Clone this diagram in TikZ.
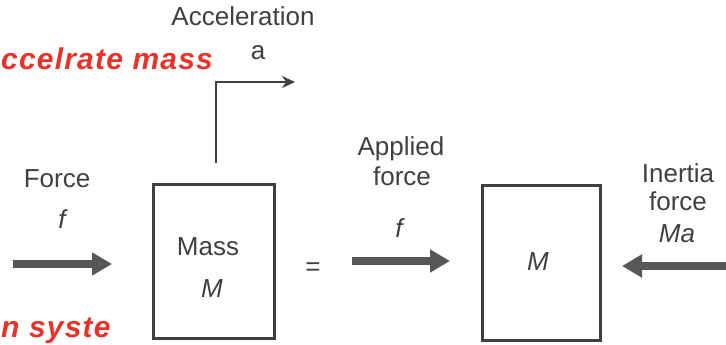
\documentclass[tikz,border=0pt]{standalone}
\usepackage{fontspec}
\setmainfont{Liberation Sans}
\newfontfamily\penfont[LetterSpace=4]{Liberation Sans}
\usetikzlibrary{arrows.meta}
\definecolor{txt}{HTML}{404040}
\definecolor{arr}{HTML}{575757}
\definecolor{pen}{HTML}{E8322A}
\begin{document}
\begin{tikzpicture}[x=1pt,y=-1pt,
  lbl/.style={text=txt,font=\fontsize{26}{30}\selectfont,anchor=base,inner sep=0pt},
  ilbl/.style={lbl,font=\fontsize{26}{30}\selectfont\itshape},
  penlbl/.style={text=pen,font=\penfont\fontsize{30}{36}\selectfont\itshape\bfseries,anchor=base west,inner sep=0pt},
  massbox/.style={draw=txt,line width=3pt,inner sep=0pt},
  fat/.style={draw=arr,line width=8pt,-{Triangle[length=20pt,width=22pt]}},
  thinarrow/.style={draw=txt,line width=2pt,-{Stealth[length=13pt,width=12pt]}}]
\path[use as bounding box] (0,0) rectangle (726,345);
\clip (0,0) rectangle (726,345);

% handwritten notes
\node[penlbl] (note1) at (1,70) {ccelrate mass};
\node[penlbl] (note2) at (1,337) {n syste};

% boxes
\node[massbox,minimum width=121pt,minimum height=154pt] (mass) at (213.5,261) {};
\node[massbox,minimum width=118pt,minimum height=155pt] (mass2) at (541,262.5) {};

% acceleration
\node[lbl] (acc) at (243,26) {Acceleration};
\node[lbl] (acca) at (258,60) {a};
\coordinate (accstart) at (216,163);
\coordinate (acctip) at (295,82);
\draw[thinarrow] (accstart) |- (acctip);

% left force
\node[lbl] (force) at (57,187) {Force};
\node[ilbl] (forcef) at (62,228) {f};
\coordinate (f1s) at (13,264);
\coordinate (f1e) at (112,264);
\draw[fat] (f1s) -- (f1e);

% mass labels
\node[lbl] (masst) at (208,255) {Mass};
\node[ilbl] (massM) at (212,297) {M};

% equals
\node[lbl] (eq) at (313,275) {=};

% applied force
\node[lbl] (app1) at (401,155) {Applied};
\node[lbl] (app2) at (402,185) {force};
\node[ilbl] (appf) at (399,237) {f};
\coordinate (f2s) at (352,261);
\coordinate (f2e) at (450,261);
\draw[fat] (f2s) -- (f2e);

% second box
\node[ilbl] (m2) at (538,270) {M};

% inertia force
\node[lbl] (in1) at (678,182) {Inertia};
\node[lbl] (in2) at (678,210) {force};
\node[ilbl] (inMa) at (677,242) {Ma};
\coordinate (f3s) at (730,266);
\coordinate (f3e) at (622,266);
\draw[fat] (f3s) -- (f3e);
\end{tikzpicture}
\end{document}
